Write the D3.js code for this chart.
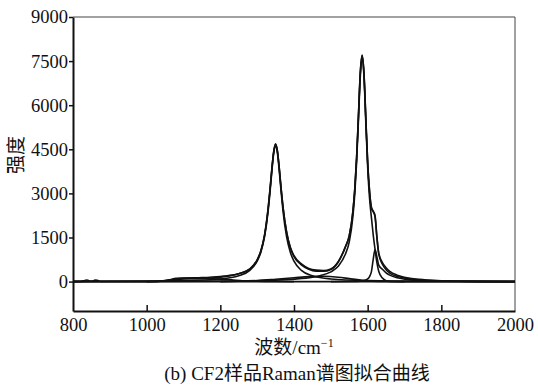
<!DOCTYPE html>
<html>
<head>
<meta charset="utf-8">
<script src="https://cdn.jsdelivr.net/npm/d3@7"></script>
<style>
  html, body { margin: 0; padding: 0; background: #fff; }
  svg text { font-family: "Liberation Serif", "DejaVu Serif", serif; fill: #111; }
  .cjk { font-family: "Liberation Serif", "Noto Sans CJK SC", serif; }
</style>
</head>
<body>
<script>
// Raman spectrum of sample CF2 with fitted bands
const xTicks = [800, 1000, 1200, 1400, 1600, 1800, 2000];
const yTicks = [0, 1500, 3000, 4500, 6000, 7500, 9000];

// measured spectrum [wavenumber, intensity]
const measured = [
  [800, 0], [820, 4], [832, 40], [838, 55], [845, 20], [852, 10], [860, 50], [866, 45], [875, 5],
  [1000, 4], [1030, 10], [1060, 60], [1080, 110], [1100, 125], [1150, 120], [1200, 150], [1220, 185],
  [1250, 270], [1280, 430], [1300, 740], [1310, 1045], [1320, 1580], [1330, 2520], [1335, 3150],
  [1340, 3850], [1345, 4430], [1350, 4680], [1355, 4440], [1360, 3860], [1365, 3170], [1370, 2560],
  [1380, 1680], [1390, 1170], [1400, 880], [1420, 600], [1440, 450], [1460, 390], [1480, 375],
  [1500, 430], [1520, 680], [1540, 1200], [1550, 1560], [1560, 2400], [1565, 3150], [1570, 4230],
  [1575, 5650], [1580, 7110], [1585, 7700], [1590, 7080], [1595, 5560], [1600, 4060], [1605, 3100],
  [1610, 2550], [1615, 2400], [1620, 2250], [1625, 1540], [1630, 980], [1640, 650], [1650, 470],
  [1660, 350], [1680, 220], [1700, 150], [1740, 75], [1800, 30], [1850, 12], [1900, 4], [2000, 0]
];

// sum of the fitted bands
const fitted = [
  [800, 0], [1000, 4], [1030, 8], [1060, 45], [1080, 90], [1100, 115], [1150, 135], [1200, 175],
  [1220, 200], [1250, 270], [1280, 425], [1300, 735], [1310, 1040], [1320, 1575], [1330, 2510],
  [1335, 3145], [1340, 3845], [1345, 4425], [1350, 4675], [1355, 4435], [1360, 3855], [1365, 3165],
  [1370, 2555], [1380, 1670], [1390, 1150], [1400, 850], [1420, 570], [1440, 420], [1460, 355],
  [1480, 350], [1500, 410], [1520, 660], [1540, 1190], [1550, 1555], [1560, 2395], [1565, 3145],
  [1570, 4225], [1575, 5645], [1580, 7105], [1585, 7695], [1590, 7075], [1595, 5555], [1600, 4055],
  [1605, 3090], [1610, 2500], [1615, 2380], [1620, 2200], [1625, 1500], [1630, 940], [1640, 590],
  [1650, 400], [1660, 290], [1680, 180], [1700, 120], [1740, 60], [1800, 25], [1850, 10], [1900, 3],
  [2000, 0]
];

// D1 band (~1350)
const bandD1 = [
  [800, 7], [1000, 17], [1100, 32], [1200, 89], [1250, 195], [1280, 381], [1300, 693], [1310, 998],
  [1320, 1519], [1330, 2423], [1335, 3059], [1340, 3766], [1345, 4372], [1350, 4600], [1355, 4372],
  [1360, 3766], [1365, 3059], [1370, 2423], [1380, 1519], [1390, 998], [1400, 693], [1420, 381],
  [1450, 195], [1500, 89], [1600, 32], [1700, 17], [1800, 10], [2000, 5]
];

// G band (~1585)
const bandG = [
  [800, 3], [1000, 5], [1200, 15], [1300, 30], [1350, 50], [1400, 85], [1450, 150], [1470, 200],
  [1500, 330], [1520, 520], [1540, 950], [1550, 1350], [1560, 2224], [1565, 2985], [1570, 4071],
  [1575, 5500], [1580, 6969], [1585, 7600], [1590, 6969], [1595, 5400], [1600, 3900], [1605, 2850],
  [1610, 2200], [1615, 1600], [1620, 1100], [1625, 650], [1630, 350], [1640, 120], [1650, 30],
  [1660, 5], [1700, 0], [2000, 0]
];

// D2 band (~1620)
const bandD2 = [
  [1500, 0], [1560, 5], [1580, 15], [1590, 35], [1600, 90], [1605, 170], [1610, 330], [1615, 750],
  [1620, 1090], [1625, 850], [1630, 560], [1640, 420], [1650, 300], [1660, 220], [1680, 130],
  [1700, 85], [1750, 40], [1800, 20], [1900, 6], [2000, 2]
];

// D3 band (broad, ~1480)
const bandD3 = [
  [1200, 0], [1250, 10], [1300, 35], [1350, 80], [1400, 130], [1440, 170], [1480, 180],
  [1520, 150], [1550, 100], [1580, 50], [1600, 25], [1650, 5], [1700, 0]
];

// D4 band (broad, ~1160)
const bandD4 = [
  [1000, 0], [1030, 5], [1060, 40], [1090, 80], [1120, 95], [1160, 100], [1200, 85],
  [1230, 60], [1260, 30], [1300, 10], [1350, 2], [1400, 0]
];

const baseline = [[800, 0], [2000, 0]];

const width = 538, height = 388;
const margin = { top: 17, right: 23, bottom: 77, left: 73 };

const svg = d3.select("body").append("svg")
  .attr("width", width)
  .attr("height", height);

const x = d3.scaleLinear()
  .domain([800, 2000])
  .range([margin.left, width - margin.right]);

const y = d3.scaleLinear()
  .domain([-1000, 9000])
  .range([height - margin.bottom, margin.top]);

const line = d3.line()
  .x(d => x(d[0]))
  .y(d => y(d[1]))
  .curve(d3.curveMonotoneX);

// thin frame on top and right
svg.append("path")
  .attr("d", `M${x(800)},${y(9000)}H${x(2000)}V${y(-1000)}`)
  .attr("fill", "none")
  .attr("stroke", "#444")
  .attr("stroke-width", 1);

// curves
const series = [bandD4, bandD3, bandD2, bandD1, bandG, fitted, measured, baseline];
svg.append("g")
  .selectAll("path")
  .data(series)
  .join("path")
  .attr("d", line)
  .attr("fill", "none")
  .attr("stroke", "#111")
  .attr("stroke-width", 1.6)
  .attr("stroke-linejoin", "round");

// y axis
const yAxis = svg.append("g")
  .attr("transform", `translate(${margin.left},0)`)
  .call(d3.axisLeft(y).tickValues(yTicks).tickSize(4).tickSizeOuter(0).tickPadding(1)
    .tickFormat(d3.format("d")));
yAxis.select(".domain").attr("stroke", "#111").attr("stroke-width", 2);
yAxis.selectAll(".tick line").attr("stroke", "#111").attr("stroke-width", 1.5);
yAxis.selectAll("text").attr("font-size", 18.5).attr("font-family", "Liberation Serif").attr("fill", "#111");

// x axis, ticks pointing inward
const xAxis = svg.append("g")
  .attr("transform", `translate(0,${height - margin.bottom})`)
  .call(d3.axisBottom(x).tickValues(xTicks).tickSize(-6).tickSizeOuter(0).tickPadding(7)
    .tickFormat(d3.format("d")));
xAxis.select(".domain").attr("stroke", "#111").attr("stroke-width", 2);
xAxis.selectAll(".tick line")
  .attr("stroke", "#111")
  .attr("stroke-width", 1.5)
  .attr("display", d => (d === 800 || d === 2000) ? "none" : null);
xAxis.selectAll("text").attr("font-size", 18.5).attr("font-family", "Liberation Serif").attr("fill", "#111");

// axis titles
svg.append("text")
  .attr("class", "cjk")
  .attr("transform", `translate(23,${(margin.top + height - margin.bottom) / 2 - 9}) rotate(-90)`)
  .attr("text-anchor", "middle")
  .attr("font-size", 19)
  .text("强度");

const xTitle = svg.append("text")
  .attr("class", "cjk")
  .attr("x", (x(800) + x(2000)) / 2)
  .attr("y", 354)
  .attr("text-anchor", "middle")
  .attr("font-size", 19);
xTitle.append("tspan").text("波数/cm");
xTitle.append("tspan").attr("dy", -7).attr("font-size", 12).text("−1");

svg.append("text")
  .attr("class", "cjk")
  .attr("x", 297)
  .attr("y", 380)
  .attr("text-anchor", "middle")
  .attr("font-size", 19)
  .text("(b) CF2样品Raman谱图拟合曲线");
</script>
</body>
</html>
